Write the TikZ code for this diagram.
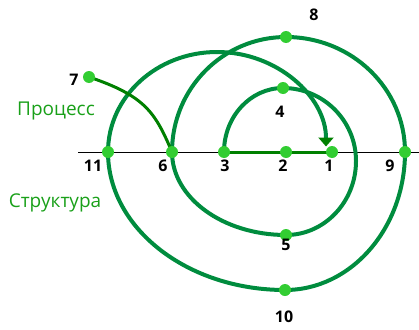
\documentclass[tikz,border=0pt]{standalone}
\usepackage{fontspec}
\setmainfont{Open Sans}
\usetikzlibrary{arrows.meta}
\definecolor{curvegreen}{RGB}{0,140,62}
\definecolor{dotgreen}{RGB}{50,205,50}
\definecolor{darkgreen}{RGB}{0,128,0}
\definecolor{textgreen}{RGB}{25,160,25}
\tikzset{
  spiral/.style={draw=curvegreen, line width=4pt},
  linkline/.style={draw=darkgreen, line width=3pt},
  dot/.style={circle, fill=dotgreen, inner sep=0pt, minimum size=12pt},
  num/.style={font=\bfseries\fontsize{16}{16}\selectfont, text=black, inner sep=0pt},
  caption/.style={font=\fontsize{19}{19}\selectfont, text=textgreen, inner sep=0pt}
}
\begin{document}
\begin{tikzpicture}[x=1pt,y=-1pt]
\useasboundingbox (0,0) rectangle (419,329);
% points
\coordinate (p1) at (332,152);
\coordinate (p2) at (286,152);
\coordinate (p3) at (224,152);
\coordinate (p4) at (283,88);
\coordinate (p5) at (286,235);
\coordinate (p6) at (172,152);
\coordinate (p7) at (89,77);
\coordinate (p8) at (286,37);
\coordinate (p9) at (405,152);
\coordinate (p10) at (285,290);
\coordinate (p11) at (108,152);
\coordinate (r4) at (356,161);
\coordinate (top11) at (217,52);
\coordinate (end1) at (326,146.5);
\coordinate (axl) at (78,152);
\coordinate (axr) at (419,152);
% axis
\draw[black, line width=0.9pt] (axl) -- (axr);
% spiral
\path[spiral] (p3) .. controls (224,116.7) and (250.4,88) .. (p4)
  .. controls (323.3,88) and (356,120.7) .. (r4)
  .. controls (356,201.8) and (324.6,235) .. (p5);
\path[spiral] (p5) .. controls (223.1,235) and (172,197.8) .. (p6);
\path[spiral] (p6) .. controls (172,88.5) and (223.1,37) .. (p8);
\path[spiral] (p8) .. controls (351.7,37) and (405,88.5) .. (p9);
\path[spiral] (p9) .. controls (405,228.2) and (351.2,290) .. (p10);
\path[spiral] (p10) .. controls (187.3,290) and (108,228.2) .. (p11);
\path[spiral] (p11) .. controls (108,96.8) and (156.8,52) .. (top11);
\path[spiral, -{Triangle[width=15pt,length=9pt,color=darkgreen]}] (top11) .. controls (277.2,52) and (326,96.8) .. (end1);
% links
\path[linkline] (p3) -- (p1);
\path[linkline] (p7) .. controls (145,96) and (155,112) .. (p6);
% dots
\foreach \i in {1,...,11} { \node[dot] (n\i) at (p\i) {}; }
% numbers
\node[num] (l7) at (74,80) {7};
\node[num] (l8) at (314,15) {8};
\node[num] (l4) at (280,112) {4};
\node[num] (l11) at (93,166) {11};
\node[num] (l6) at (163,166) {6};
\node[num] (l3) at (225,166) {3};
\node[num] (l2) at (283,166) {2};
\node[num] (l1) at (329,166) {1};
\node[num] (l9) at (390,166) {9};
\node[num] (l5) at (286,245) {5};
\node[num] (l10) at (284,317) {10};
% captions
\node[caption] (proc) at (56,111) {Процесс};
\node[caption] (struct) at (55,203) {Структура};
\end{tikzpicture}
\end{document}
